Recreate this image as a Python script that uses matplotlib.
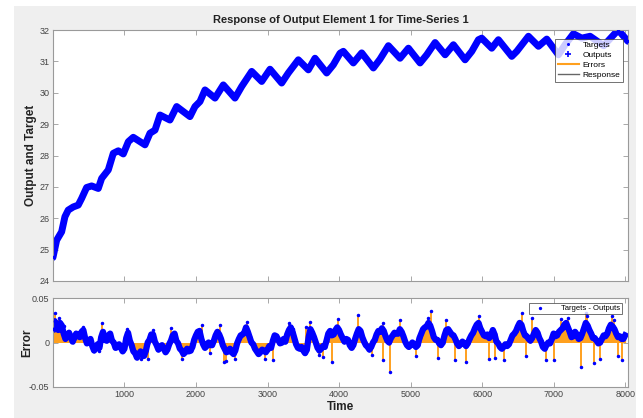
import numpy as np
import matplotlib
matplotlib.use("Agg")
import matplotlib.pyplot as plt
from matplotlib.patches import Rectangle

plt.rcParams['font.family'] = ['Liberation Sans Narrow', 'Liberation Sans', 'DejaVu Sans']

# --- data ---
# response curve (time, value)
resp_t = [0, 52, 122, 168, 214, 284, 354, 401, 471, 541, 634, 681, 774, 844, 914, 984,
          1054, 1123, 1287, 1357, 1427, 1497, 1636, 1730, 1916, 1986, 2056, 2126, 2266,
          2382, 2545, 2639, 2779, 2919, 3035, 3198, 3291, 3431, 3571, 3664, 3827, 3920,
          4014, 4060, 4200, 4317, 4480, 4573, 4690, 4853, 4970, 5133, 5226, 5343, 5483,
          5599, 5762, 5856, 5949, 5995, 6135, 6228, 6415, 6485, 6648, 6788, 6904, 7067,
          7160, 7277, 7393, 7510, 7700, 7902, 8040]
resp_v = [24.75, 25.3, 25.57, 26.05, 26.26, 26.36, 26.42, 26.63, 26.98, 27.03, 26.95,
          27.27, 27.54, 28.07, 28.15, 28.05, 28.44, 28.58, 28.34, 28.71, 28.81, 29.29,
          29.13, 29.56, 29.24, 29.56, 29.72, 30.09, 29.83, 30.25, 29.83, 30.2, 30.68,
          30.36, 30.75, 30.31, 30.63, 31.05, 30.73, 31.1, 30.63, 30.89, 31.26, 31.32,
          30.95, 31.27, 30.79, 31.07, 31.5, 31.1, 31.42, 30.95, 31.21, 31.6, 31.21, 31.53,
          31.05, 31.32, 31.69, 31.74, 31.42, 31.69, 31.16, 31.32, 31.8, 31.48, 31.71,
          31.21, 31.53, 31.88, 31.74, 31.8, 31.5, 32.0, 31.64]

# errors (targets - outputs), x1e-3, at t = 0, 50, ..., 8000
err_t = list(range(0, 8001, 50))
err_v = [15, 20, 22, 10, 7, 6, 5, 8, 12, 5, 2, -4, -7, -6, 12, 2, 10, 0, -5, -6,
         -7, 11, -3, -12, -14, -13, -9, 3, 9, -3, -6, -7, -8, 2, 10, -1, -9, -11, -10, -5,
         8, 13, -2, -4, -3, 2, 12, 4, -7, -10, -11, -9, 4, 9, 17, 6, -2, -10, -11, -9,
         -8, -6, 8, 3, 0, 1, 14, 12, -2, -7, -9, -8, 15, 6, -6, -7, -5, 10, 8, 14,
         14, 5, 4, -3, -3, 10, 13, 1, -5, -5, 3, 13, 16, 7, 0, 8, 10, 15, 7, -3,
         -3, -2, -3, 10, 17, 22, 13, 3, -1, 0, 14, 12, 8, -1, -2, -1, -1, 8, 16, 22,
         12, 7, 5, 14, 1, -5, -5, -4, 3, 10, 18, 20, 8, 4, 5, 14, 5, -5, -3, -1,
         10, 8, 14, 20, 17, 6, 12, 4, 10, 22, 14, 5, 2, 0, 8, 10, 20, 15, 6, 4, 8]

# errors at the in-between steps t = 25, 75, ..., 7975 (x1e-3)
mid_t = list(range(25, 8000, 50))
mid_v = [24, 14, 19, 4, 11, 1, 10, 6, 14, -1, 4, -9, -2, 6, 3, 8, 2, -6, -2, -10,
         5, 2, -10, -17, -10, -15, 0, 9, 1, -8, -3, -11, -2, 8, 2, -7, -13, -7, -9, 3,
         12, 4, -6, 0, -3, 8, 9, -3, -11, -7, -13, -1, 8, 11, 12, 0, -7, -13, -8, -11,
         -4, 2, 7, -1, 4, 9, 17, 5, -6, -5, -12, 6, 11, 0, -9, -4, 2, 13, 9, 17,
         9, 1, 3, -6, 4, 15, 6, -3, -8, 0, 9, 12, 13, 2, 5, 11, 10, 12, 1, -5,
         0, -5, 5, 15, 18, 19, 6, 3, -3, 8, 15, 9, 4, -4, 1, -4, 4, 11, 20, 16,
         8, 9, 8, 9, -1, -7, -2, -2, 8, 13, 22, 13, 7, 2, 10, 11, 1, -7, 0, 4,
         7, 12, 16, 22, 12, 7, 9, 5, 16, 19, 10, 5, -1, 4, 7, 16, 18, 10, 7, 4]

# isolated spikes (time, value x1e-3)
spike_t = [30, 80, 160, 420, 650, 690, 1040, 1230, 1250, 1330, 1400, 1650, 1800, 2090,
           2200, 2330, 2390, 2420, 2540, 2720, 2960, 3080, 3300, 3350, 3540, 3600, 3720,
           3780, 3900, 3980, 4270, 4460, 4610, 4620, 4710, 4850, 5080, 5250, 5280, 5380,
           5500, 5620, 5780, 5950, 6100, 6180, 6300, 6560, 6620, 6700, 6900, 7010, 7100,
           7200, 7380, 7450, 7470, 7570, 7650, 7810, 7850, 7900, 7960]
spike_v = [33, 27, 18, 17, -10, 22, 15, -19, -16, -18, 14, 16, -18, 20,
           -12, 20, -22, -21, -18, 23, -19, -20, 22, 15, 17, 23, -14,
           -16, -22, 26, 31, -14, 22, -20, -33, 25, -15, 27, 35, -17,
           25, -20, -22, 30, -18, -17, -20, 33, -15, 27, -20, -20, 26,
           27, -27, 33, 30, -23, -18, 30, 25, -15, -20]

all_t = np.array(err_t + mid_t)
all_v = np.array(err_v + mid_v) * 1e-3
srt = np.argsort(all_t)
all_t, all_v = all_t[srt], all_v[srt]
spk = np.array(spike_v) * 1e-3

blue = '#0000ff'
orange = '#ffa01e'
tick_col = '#444444'
spine_col = '#9a9a9a'

fig = plt.figure(figsize=(6.43, 4.18), dpi=100)
fig.patch.set_facecolor('white')
bg = Rectangle((14 / 643, 0), (636 - 14) / 643, 1 - 6 / 418,
               transform=fig.transFigure, facecolor='#efefef', edgecolor='none')
bg.set_zorder(-10)
fig.add_artist(bg)

ax1 = fig.add_axes([53 / 643, 1 - 281 / 418, 575 / 643, 251 / 418])
ax2 = fig.add_axes([53 / 643, 1 - 387 / 418, 575 / 643, 89 / 418])

# top: response
ax1.plot(resp_t, resp_v, '-', color='#666666', lw=1, label='Response', zorder=1)
ax1.plot(resp_t, resp_v, '-', color=blue, lw=5, solid_capstyle='round',
         solid_joinstyle='round', zorder=2)
ax1.plot(resp_t, resp_v, '.', color=blue, ms=3, label='Targets', zorder=3)
h_out, = ax1.plot([], [], '+', color=blue, ms=5, mew=1.2, label='Outputs')
h_err, = ax1.plot([], [], '-', color=orange, lw=1.5, label='Errors')
handles, labels = ax1.get_legend_handles_labels()
order = ['Targets', 'Outputs', 'Errors', 'Response']
hd = dict(zip(labels, handles))
leg1 = ax1.legend([hd[k] for k in order], order, loc='upper right',
                  bbox_to_anchor=(0.991, 0.964), fontsize=6, frameon=True,
                  fancybox=False, borderpad=0.3, labelspacing=0.25,
                  handlelength=2.6, handletextpad=0.4, borderaxespad=0,
                  markerscale=0.8)
leg1.get_frame().set_edgecolor('#333333')
leg1.get_frame().set_linewidth(0.6)

ax1.set_xlim(1, 8040)
ax1.set_ylim(24, 32)
ax1.set_xticks(range(1000, 8001, 1000))
ax1.set_xticklabels([])
ax1.set_yticks(range(24, 33))
ax1.set_title('Response of Output Element 1 for Time-Series 1', fontsize=8,
              fontweight='bold', pad=5, color='#222222')
ax1.set_ylabel('Output and Target', fontsize=8.5, fontweight='bold', color='#222222')
ax1.yaxis.set_label_coords(-0.028, 0.5)

# bottom: errors
ax2.vlines(all_t, 0, all_v, color=orange, lw=1.6, zorder=1)
ax2.vlines(spike_t, 0, spk, color=orange, lw=1.4, zorder=1)
ax2.plot(all_t, all_v, '-', color=blue, lw=4.5, zorder=2)
ax2.plot(all_t, all_v, '.', color=blue, ms=3.5, zorder=3, label='Targets - Outputs')
ax2.plot(spike_t, spk, '.', color=blue, ms=3, zorder=3)
leg2 = ax2.legend(loc='upper right', bbox_to_anchor=(0.99, 0.944), fontsize=5.5,
                  fancybox=False, borderpad=0.25, handlelength=2.5,
                  handletextpad=1.5, borderaxespad=0, markerscale=0.8)
leg2.get_frame().set_edgecolor('#333333')
leg2.get_frame().set_linewidth(0.6)

ax2.set_xlim(1, 8040)
ax2.set_ylim(-0.05, 0.05)
ax2.set_xticks(range(1000, 8001, 1000))
ax2.set_yticks([-0.05, 0, 0.05])
ax2.set_yticklabels(['-0.05', '0', '0.05'])
ax2.set_xlabel('Time', fontsize=8.5, fontweight='bold', labelpad=1, color='#222222')
ax2.set_ylabel('Error', fontsize=8.5, fontweight='bold', color='#222222')
ax2.yaxis.set_label_coords(-0.034, 0.5)

for ax in (ax1, ax2):
    ax.set_facecolor('white')
    ax.tick_params(direction='in', length=3.5, width=0.6, colors=spine_col,
                   labelcolor=tick_col, labelsize=6.5, top=True, right=True, pad=2.5)
    for s in ax.spines.values():
        s.set_color(spine_col)
        s.set_linewidth(0.8)

fig.savefig('out.png', dpi=100, facecolor=fig.get_facecolor())
